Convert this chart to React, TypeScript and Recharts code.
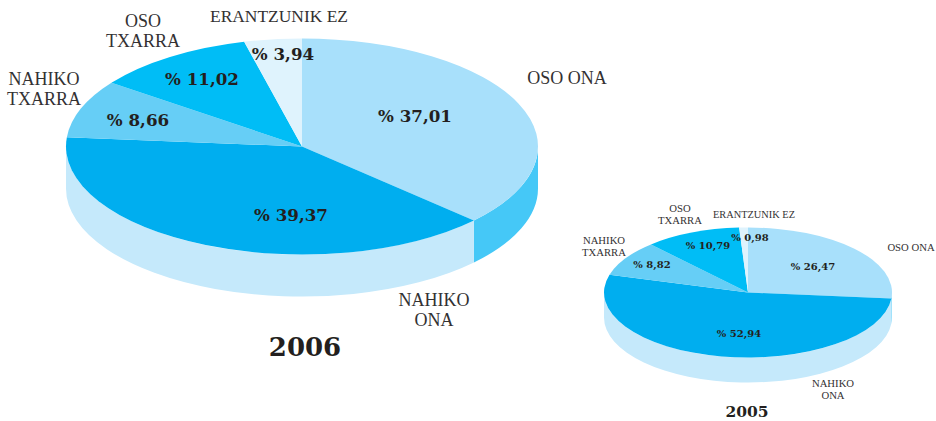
import { PieChart, Pie } from 'recharts';

const categories = ['OSO ONA', 'NAHIKO ONA', 'NAHIKO TXARRA', 'OSO TXARRA', 'ERANTZUNIK EZ'];
const values2006 = [37.01, 39.37, 8.66, 11.02, 3.94];
const values2005 = [26.47, 52.94, 8.82, 10.79, 0.98];
const valueLabels2006 = ['% 37,01', '% 39,37', '% 8,66', '% 11,02', '% 3,94'];
const valueLabels2005 = ['% 26,47', '% 52,94', '% 8,82', '% 10,79', '% 0,98'];

const TOP_COLORS = ['#a8e0fb', '#00aeef', '#66cef6', '#00bdf6', '#dff3fd'];
const SIDE_COLORS = ['#45c8f7', '#c5e9fb', '#c5e9fb', '#c5e9fb', '#c5e9fb'];
const TEXT_COLOR = '#231f20';
const NAME_COLOR = '#333132';
const NAME_FONT = '"Liberation Serif", serif';
const VALUE_FONT = '"DejaVu Serif", serif';

const toData = (values: number[]) =>
  values.map((value, i) => ({ name: categories[i], value }));

// [x, baseline y] of the texts, one row per category
const NAME_POS_2006 = [
  [567, 84],
  [434, 306],
  [44, 85],
  [143, 27],
  [279, 22],
];
const VALUE_POS_2006 = [
  [415, 122],
  [291, 221],
  [138, 126],
  [202, 85],
  [283, 60],
];
const NAME_POS_2005 = [
  [911, 251],
  [833, 387],
  [604, 244],
  [680, 212],
  [754, 218],
];
const VALUE_POS_2005 = [
  [813, 270],
  [739, 337],
  [652, 268],
  [708, 249],
  [750, 241],
];

// recharts angle (counter-clockwise from 3 o'clock) flattened to an ellipse
const point = (cx: number, cy: number, rx: number, ry: number, angle: number) => {
  const rad = (angle * Math.PI) / 180;
  return [cx + rx * Math.cos(rad), cy - ry * Math.sin(rad)];
};

const topShape = (squash: number) => (props: any) => {
  const { cx, cy, outerRadius, startAngle, endAngle, fill } = props;
  const ry = outerRadius * squash;
  const [x0, y0] = point(cx, cy, outerRadius, ry, startAngle);
  const [x1, y1] = point(cx, cy, outerRadius, ry, endAngle);
  const large = Math.abs(startAngle - endAngle) > 180 ? 1 : 0;
  return (
    <path
      d={`M${cx},${cy}L${x0},${y0}A${outerRadius},${ry} 0 ${large} 1 ${x1},${y1}Z`}
      fill={fill}
    />
  );
};

// only the part of the rim that faces the viewer: angles 0 to -180
const sideShape = (squash: number, depth: number) => (props: any) => {
  const { cx, cy, outerRadius, startAngle, endAngle, fill } = props;
  const ry = outerRadius * squash;
  const from = Math.min(startAngle, 0);
  const to = Math.max(endAngle, -180);
  if (from <= to) return <g />;
  const [x0, y0] = point(cx, cy, outerRadius, ry, from);
  const [x1, y1] = point(cx, cy, outerRadius, ry, to);
  return (
    <path
      d={`M${x0},${y0}A${outerRadius},${ry} 0 0 1 ${x1},${y1}L${x1},${y1 + depth}A${outerRadius},${ry} 0 0 0 ${x0},${y0 + depth}Z`}
      fill={fill}
    />
  );
};

const labels =
  (
    names: number[][],
    nameSize: number,
    nameGap: number,
    values: number[][],
    valueText: string[],
    valueSize: number,
  ) =>
  (props: any) => {
    const i = props.index;
    const oneLine = categories[i] === 'ERANTZUNIK EZ' || categories[i] === 'OSO ONA';
    const words = oneLine ? [categories[i]] : categories[i].split(' ');
    return (
      <g>
        <text
          textAnchor="middle"
          fontFamily={NAME_FONT}
          fontSize={categories[i] === 'ERANTZUNIK EZ' ? nameSize * 0.97 : nameSize}
          fill={NAME_COLOR}
        >
          {words.map((w, k) => (
            <tspan key={w} x={names[i][0]} y={names[i][1] + k * nameGap}>
              {w}
            </tspan>
          ))}
        </text>
        <text
          x={values[i][0]}
          y={values[i][1]}
          textAnchor="middle"
          fontFamily={VALUE_FONT}
          fontWeight="bold"
          fontSize={valueSize}
          fill={TEXT_COLOR}
        >
          {valueText[i]}
        </text>
      </g>
    );
  };

const pieProps = {
  dataKey: 'value',
  startAngle: 90,
  endAngle: -270,
  stroke: 'none',
  isAnimationActive: false,
  labelLine: false,
};

const withFill = (values: number[], colors: string[]) =>
  toData(values).map((d, i) => ({ ...d, fill: colors[i] }));

export default function App() {
  return (
    <div style={{ position: 'absolute', left: 0, top: 0, width: 936, height: 421, background: '#fff' }}>
      <PieChart width={936} height={421} margin={{ top: 0, right: 0, bottom: 0, left: 0 }}>
        <Pie
          {...pieProps}
          data={withFill(values2006, SIDE_COLORS)}
          cx={302}
          cy={146.5}
          outerRadius={236}
          shape={sideShape(108 / 236, 42)}
        />
        <Pie
          {...pieProps}
          data={withFill(values2006, TOP_COLORS)}
          cx={302}
          cy={146.5}
          outerRadius={236}
          shape={topShape(108 / 236)}
          label={labels(NAME_POS_2006, 18, 20, VALUE_POS_2006, valueLabels2006, 16.7)}
        />
        <Pie
          {...pieProps}
          data={withFill(values2005, SIDE_COLORS)}
          cx={748}
          cy={292.5}
          outerRadius={144}
          shape={sideShape(65 / 144, 25)}
        />
        <Pie
          {...pieProps}
          data={withFill(values2005, TOP_COLORS)}
          cx={748}
          cy={292.5}
          outerRadius={144}
          shape={topShape(65 / 144)}
          label={labels(NAME_POS_2005, 10.7, 12, VALUE_POS_2005, valueLabels2005, 10)}
        />
        <text x={305} y={356} textAnchor="middle" fontFamily={VALUE_FONT} fontWeight="bold" fontSize={26} fill={TEXT_COLOR}>
          2006
        </text>
        <text x={747} y={417} textAnchor="middle" fontFamily={VALUE_FONT} fontWeight="bold" fontSize={15.5} fill={TEXT_COLOR}>
          2005
        </text>
      </PieChart>
    </div>
  );
}
